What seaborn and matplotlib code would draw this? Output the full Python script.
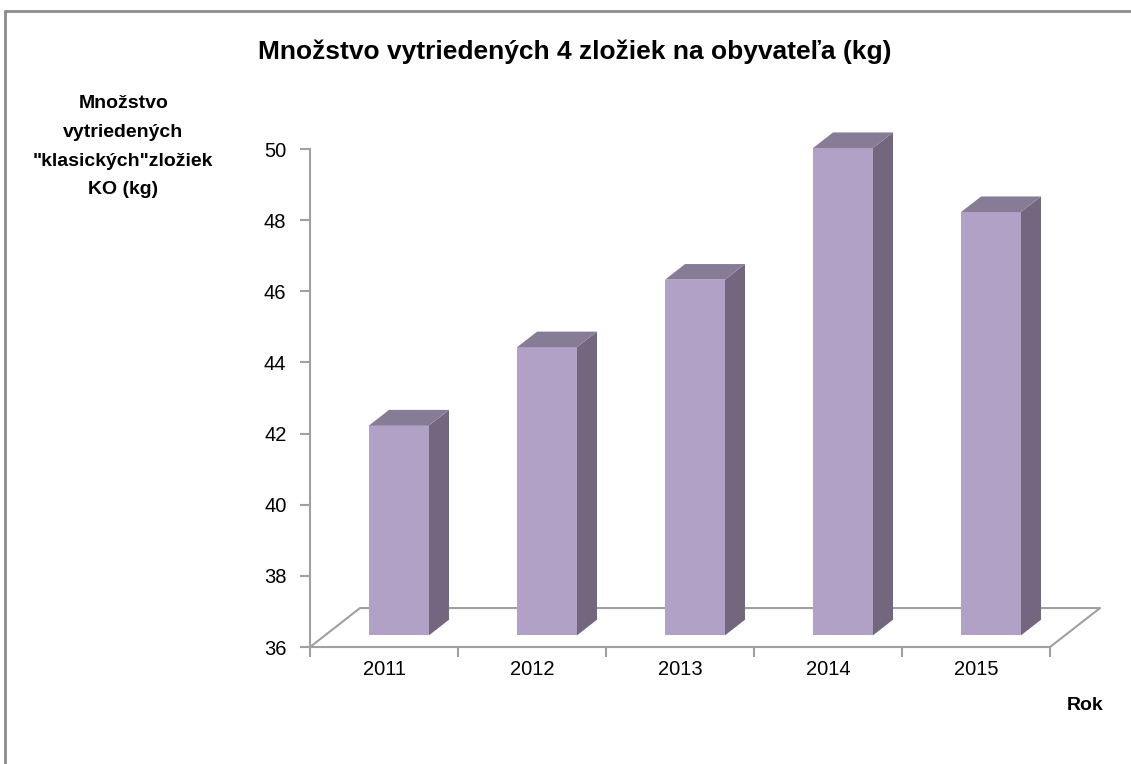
import numpy as np
import pandas as pd
import matplotlib
matplotlib.use('Agg')
import matplotlib.pyplot as plt
import seaborn as sns
from matplotlib.patches import Polygon
from matplotlib.lines import Line2D
from matplotlib.transforms import Affine2D

# data
roky = ['2011', '2012', '2013', '2014', '2015']
mnozstvo = [41.9, 44.1, 46.0, 49.7, 47.9]
y_ticks = [36, 38, 40, 42, 44, 46, 48, 50]

title = 'Množstvo vytriedených 4 zložiek na obyvateľa (kg)'
y_label = 'Množstvo\nvytriedených\n"klasických"zložiek\nKO (kg)'
x_label = 'Rok'

# colors
c_front = '#B2A1C7'
c_side = '#72677F'
c_top = '#877C96'
c_axis = '#A0A0A0'

sns.set_style('white')
plt.rcParams['font.family'] = ['Liberation Sans Narrow', 'Liberation Sans', 'DejaVu Sans']
plt.rcParams['text.color'] = 'black'
plt.rcParams['xtick.labelcolor'] = 'black'
plt.rcParams['ytick.labelcolor'] = 'black'

fig = plt.figure(figsize=(11.31, 7.64), dpi=100)
ax = fig.add_axes([0.2741, 0.1531, 0.6543, 0.6518])

df = pd.DataFrame({'rok': roky, 'hodnota': mnozstvo})
sns.barplot(data=df, x='rok', y='hodnota', color=c_front, width=0.405,
            saturation=1, ax=ax, zorder=3)

ymin, ymax = 36, 50
ax.set_ylim(ymin, ymax)
ax.set_xlim(-0.5, len(roky) - 0.5)

# 3D vzhľad: posun do hĺbky v dátových jednotkách
Dx, Dy = 0.338, 1.096
f0, f1 = 0.3, 0.7

# podlaha
fx0, fx1 = -0.5, len(roky) - 0.5
floor = [(fx0, ymin), (fx0 + Dx, ymin + Dy), (fx1 + Dx, ymin + Dy), (fx1, ymin)]
ax.add_line(Line2D([p[0] for p in floor], [p[1] for p in floor], color=c_axis,
                   lw=1.5, clip_on=False, zorder=1))

shift = Affine2D().translate(f0 * Dx, f0 * Dy) + ax.transData
for rect, val in zip(ax.patches, mnozstvo):
    x0 = rect.get_x()
    x1 = x0 + rect.get_width()
    rect.set_y(ymin)
    rect.set_height(val - ymin)
    rect.set_transform(shift)
    rect.set_clip_on(False)
    rect.set_linewidth(0)
    side = [(x1 + f0 * Dx, ymin + f0 * Dy), (x1 + f1 * Dx, ymin + f1 * Dy),
            (x1 + f1 * Dx, val + f1 * Dy), (x1 + f0 * Dx, val + f0 * Dy)]
    top = [(x0 + f0 * Dx, val + f0 * Dy), (x1 + f0 * Dx, val + f0 * Dy),
           (x1 + f1 * Dx, val + f1 * Dy), (x0 + f1 * Dx, val + f1 * Dy)]
    ax.add_patch(Polygon(side, closed=True, facecolor=c_side, edgecolor='none',
                         clip_on=False, zorder=3))
    ax.add_patch(Polygon(top, closed=True, facecolor=c_top, edgecolor='none',
                         clip_on=False, zorder=3))

# osi
for s in ['top', 'right']:
    ax.spines[s].set_visible(False)
for s in ['left', 'bottom']:
    ax.spines[s].set_color(c_axis)
    ax.spines[s].set_linewidth(1.5)

ax.set_yticks(y_ticks)
ax.set_yticklabels([str(t) for t in y_ticks])
ax.set_xticks(range(len(roky)))
ax.set_xticklabels(roky)
ax.set_xticks(np.arange(-0.5, len(roky)), minor=True)
ax.tick_params(axis='y', which='major', direction='out', length=7, width=1.5,
               color=c_axis, labelsize=14.5, pad=10, left=True)
ax.tick_params(axis='x', which='major', length=0, labelsize=14.5, pad=9)
ax.tick_params(axis='x', which='minor', direction='out', length=7, width=1.5,
               color=c_axis, bottom=True)
ax.set_xlabel('')
ax.set_ylabel('')

fig.text(0.508, 0.932, title, ha='center', va='center', fontsize=19,
         fontweight='bold')
fig.text(0.109, 0.808, y_label, ha='center', va='center', fontsize=14,
         fontweight='bold', linespacing=1.9)
fig.text(0.959, 0.076, x_label, ha='center', va='center', fontsize=14,
         fontweight='bold')

# rám grafu (viditeľný horný a ľavý okraj)
fig.add_artist(Line2D([0.004, 0.004], [0.0, 0.986], transform=fig.transFigure,
                      color='#8C8C8C', lw=2))
fig.add_artist(Line2D([0.004, 1.0], [0.986, 0.986], transform=fig.transFigure,
                      color='#8C8C8C', lw=2))

fig.savefig('out.png', dpi=100)
